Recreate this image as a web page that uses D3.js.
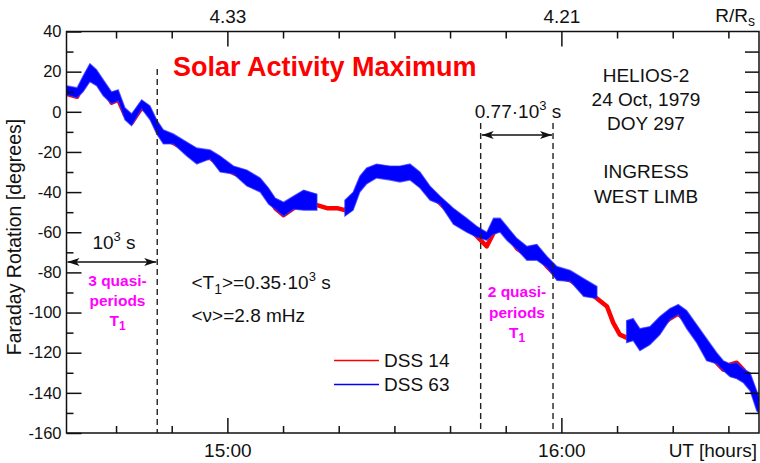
<!DOCTYPE html>
<html>
<head>
<meta charset="utf-8">
<script src="https://cdn.jsdelivr.net/npm/d3@7"></script>
<style>
  html, body { margin: 0; padding: 0; background: #fff; }
  svg { display: block; font-family: "Liberation Sans", Arial, sans-serif; }
</style>
</head>
<body>
<div id="chart"></div>
<script>
// minutes after 14:00 UT
const minutes = [31.0, 33.0, 34.1, 35.3, 36.5, 37.7, 39.2, 40.4, 41.6, 42.8, 44.6, 46.1, 47.3, 48.5, 50.3,
  52.7, 54.5, 56.9, 58.7, 61.1, 63.5, 65.9, 67.4, 68.6, 70.1, 71.9, 73.7, 76.1, 77.9, 79.7, 81.1, 82.6,
  83.8, 85.0, 86.8, 89.2, 91.0, 92.8, 94.6, 96.4, 98.2, 100.6, 103.0, 104.8, 106.6, 107.8, 109.0, 110.2,
  112.0, 113.8, 115.6, 117.4, 119.2, 121.6, 124.0, 126.4, 128.2, 129.3, 130.5, 131.7, 132.9, 134.1,
  135.9, 137.7, 139.5, 141.0, 142.5, 144.3, 146.1, 147.9, 149.1, 150.3, 151.5, 152.7, 153.9, 155.1, 155.5];

// DSS 14 Faraday rotation [deg]
const dss14 = [9, 7.5, 14, 19, 17, 12, 4.5, 6, -1.5, -5.5, 2, -0.5, -8, -13, -15.5,
  -19, -22.5, -23, -26.5, -30.5, -33, -37, -42, -48, -51.5, -48, -45.5, -46.5, -48, -48, -49, -45.5,
  -35.5, -32.5, -29, -30.5, -30.5, -30, -34, -40.5, -45.5, -52, -56.5, -62, -67, -60.5, -57, -60.5,
  -68, -71.5, -70.5, -77, -82, -84, -88, -93, -97, -105, -111, -112.5, -110, -114.5,
  -112, -107, -103, -100.5, -104.5, -110, -118.5, -125, -128.5, -126, -125, -128.5, -135, -143.5, -146];

// DSS 63 noisy band: upper and lower envelope [deg], null = no data
const dss63Hi = [13, 12, 18, 24, 21, 16, 10, 11, 2, -1, 6, 3, -4, -9, -11,
  -15, -18, -19, -22, -27, -29, -33, -38, -43, -45, -42, -39, -41, null, null, -44, -40,
  -32, -28, -26, -27, -27, -26, -30, -37, -42, -48, -53, -57, -60, -53, -53, -57,
  -63, -67, -66, -72, -77, -79, -83, -87, null, null, null, -104, -103, -108,
  -107, -102, -98, -96, -99, -106, -113, -120, -124, -125.5, -125, -128, -130, -139, -142];
const dss63Lo = [8.5, 7, 10, 15, 13, 8, 4, 5.5, -4, -7, 1.5, -4, -11, -16, -16,
  -22, -26, -23.5, -30, -31, -37, -40, -46, -48.5, -52, -48.5, -49, -49, null, null, -52, -49,
  -40, -36, -33, -34, -35, -34, -38, -44, -46, -56, -60, -62.5, -64, -61, -60, -64,
  -68.5, -74, -74, -77.5, -84, -84.5, -92, -93, null, null, null, -115, -114, -119,
  -116, -111, -103.5, -101, -108, -115, -124, -125.5, -129, -132, -133, -135, -139, -149, -150];

// axes
const timeTicks = [40, 50, 60, 70, 80, 90, 100, 110, 120, 130, 140, 150];
const timeLabelValues = [60, 120];
const timeLabelText = ['15:00', '16:00'];
const radiusTicks = [4.37, 4.35, 4.33, 4.31, 4.29, 4.27, 4.25, 4.23, 4.21, 4.19, 4.17, 4.15];
const radiusLabels = [4.33, 4.21];
const rotTicks = [40, 30, 20, 10, 0, -10, -20, -30, -40, -50, -60, -70, -80, -90, -100, -110, -120, -130, -140, -150, -160];
const rotLabels = [40, 20, 0, -20, -40, -60, -80, -100, -120, -140, -160];

// marked intervals (minutes after 14:00)
const leftMark = [31.1, 47.4];
const rightMark = [105.5, 118.5];

const W = 760, H = 463;
const mL = 66.5, mR = 759, mT = 31.5, mB = 433;

const svg = d3.select('#chart').append('svg')
  .attr('width', W).attr('height', H)
  .attr('viewBox', `0,0,${W},${H}`);

const x = d3.scaleLinear().domain([31.1, 155.5]).range([mL, mR]);
const y = d3.scaleLinear().domain([-160, 40]).range([mB, mT]);
const r = d3.scaleLinear().domain([4.33, 4.21]).range([x(60), x(120)]);

svg.append('clipPath').attr('id', 'clip')
  .append('rect').attr('x', mL).attr('y', mT).attr('width', mR - mL).attr('height', mB - mT);

const plot = svg.append('g').attr('clip-path', 'url(#clip)');

const pts = minutes.map((t, i) => ({ t, red: dss14[i], hi: dss63Hi[i], lo: dss63Lo[i] }));

// DSS 14 red
plot.append('path')
  .datum(pts)
  .attr('fill', 'none')
  .attr('stroke', '#ff0000')
  .attr('stroke-width', 4.5)
  .attr('stroke-linejoin', 'round')
  .attr('d', d3.line().x(d => x(d.t)).y(d => y(d.red)));

// DSS 63 blue
plot.append('path')
  .datum(pts)
  .attr('fill', '#0000ff')
  .attr('stroke', '#3535ff')
  .attr('stroke-opacity', 0.7)
  .attr('stroke-width', 1.2)
  .attr('d', d3.area().defined(d => d.hi != null)
    .x(d => x(d.t)).y0(d => y(d.lo)).y1(d => y(d.hi)));

// dashed markers
const dash = svg.append('g').attr('stroke', '#222').attr('stroke-width', 1.4).attr('stroke-dasharray', '6,4');
dash.append('line').attr('x1', x(leftMark[1])).attr('x2', x(leftMark[1])).attr('y1', 69).attr('y2', mB);
dash.append('line').attr('x1', x(rightMark[0])).attr('x2', x(rightMark[0])).attr('y1', 123).attr('y2', mB);
dash.append('line').attr('x1', x(rightMark[1])).attr('x2', x(rightMark[1])).attr('y1', 123).attr('y2', mB);

// axes
function styleAxis(g, size) {
  g.attr('font-family', null).attr('font-size', size);
  g.select('.domain').remove();
  g.selectAll('line').attr('stroke', '#111').attr('stroke-width', 1.5);
  g.selectAll('text').attr('fill', '#111');
}

svg.append('g').attr('transform', `translate(0,${mB})`)
  .call(d3.axisBottom(x).tickValues(timeTicks.filter(t => !timeLabelValues.includes(t)))
    .tickSizeInner(-7).tickSizeOuter(0).tickFormat(''))
  .call(g => styleAxis(g, 19));
svg.append('g').attr('transform', `translate(0,${mB})`)
  .call(d3.axisBottom(x).tickValues(timeLabelValues)
    .tickSizeInner(-15).tickSizeOuter(0).tickPadding(11).tickFormat((d, i) => timeLabelText[i]))
  .call(g => styleAxis(g, 19));

svg.append('g').attr('transform', `translate(0,${mT})`)
  .call(d3.axisTop(r).tickValues(radiusTicks.filter(v => !radiusLabels.includes(v)))
    .tickSizeInner(-7).tickSizeOuter(0).tickFormat(''))
  .call(g => styleAxis(g, 19));
svg.append('g').attr('transform', `translate(0,${mT})`)
  .call(d3.axisTop(r).tickValues(radiusLabels)
    .tickSizeInner(-15).tickSizeOuter(0).tickPadding(9).tickFormat(d3.format('.2f')))
  .call(g => styleAxis(g, 19));

svg.append('g').attr('transform', `translate(${mL},0)`)
  .call(d3.axisLeft(y).tickValues(rotTicks.filter(v => !rotLabels.includes(v)))
    .tickSizeInner(-7).tickSizeOuter(0).tickFormat(''))
  .call(g => styleAxis(g, 16.5));
svg.append('g').attr('transform', `translate(${mL},0)`)
  .call(d3.axisLeft(y).tickValues(rotLabels)
    .tickSizeInner(-15).tickSizeOuter(0).tickPadding(5).tickFormat(d => String(d)))
  .call(g => styleAxis(g, 16.5));

svg.append('g').attr('transform', `translate(${mR},0)`)
  .call(d3.axisRight(y).tickValues(rotTicks.slice(1, -1))
    .tickSizeInner(-14).tickSizeOuter(0).tickFormat(''))
  .call(g => styleAxis(g, 16));

// frame
svg.append('rect')
  .attr('x', mL).attr('y', mT).attr('width', mR - mL).attr('height', mB - mT)
  .attr('fill', 'none').attr('stroke', '#111').attr('stroke-width', 1.5);

// axis titles
const txt = svg.append('g').attr('fill', '#111').attr('font-size', 19);
txt.append('text').attr('transform', 'translate(21,237) rotate(-90)')
  .attr('text-anchor', 'middle').attr('font-size', 19.5).text('Faraday Rotation [degrees]');
txt.append('text').attr('x', 757).attr('y', 457).attr('text-anchor', 'end').text('UT [hours]');
const rr = txt.append('text').attr('x', 755).attr('y', 22).attr('text-anchor', 'end');
rr.append('tspan').text('R/R');
rr.append('tspan').attr('font-size', 14).attr('dy', 4).text('s');

// title
svg.append('text').attr('x', 173).attr('y', 75.5)
  .attr('fill', '#ff0000').attr('font-weight', 'bold').attr('font-size', 27)
  .text('Solar Activity Maximum');

// mission info
['HELIOS-2', '24 Oct, 1979', 'DOY 297'].forEach((s, i) => {
  txt.append('text').attr('x', 646).attr('y', 81.5 + i * 24).attr('text-anchor', 'middle').text(s);
});
['INGRESS', 'WEST LIMB'].forEach((s, i) => {
  txt.append('text').attr('x', 646).attr('y', 177.5 + i * 25).attr('text-anchor', 'middle').text(s);
});

// arrows
const defs = svg.append('defs');
defs.append('marker').attr('id', 'ah').attr('viewBox', '0 0 12 8')
  .attr('refX', 12).attr('refY', 4).attr('markerWidth', 12).attr('markerHeight', 8)
  .attr('markerUnits', 'userSpaceOnUse').attr('orient', 'auto-start-reverse')
  .append('path').attr('d', 'M0,0L12,4L0,8L3,4Z').attr('fill', '#111');

svg.append('line').attr('x1', x(leftMark[0]) + 1).attr('x2', x(leftMark[1]) - 1)
  .attr('y1', 262).attr('y2', 262).attr('stroke', '#111').attr('stroke-width', 1.5)
  .attr('marker-start', 'url(#ah)').attr('marker-end', 'url(#ah)');
svg.append('line').attr('x1', x(rightMark[0]) + 1).attr('x2', x(rightMark[1]) - 1)
  .attr('y1', 135).attr('y2', 135).attr('stroke', '#111').attr('stroke-width', 1.5)
  .attr('marker-start', 'url(#ah)').attr('marker-end', 'url(#ah)');

function powerText(px, py, pre, post) {
  const t = txt.append('text').attr('x', px).attr('y', py).attr('text-anchor', 'middle');
  t.append('tspan').text(pre);
  t.append('tspan').attr('font-size', 13).attr('dy', -8).text('3');
  t.append('tspan').attr('dy', 8).text(post);
  return t;
}
powerText(114, 248.5, '10', ' s');
powerText(518, 117.5, '0.77·10', ' s');

// statistics
const t1 = txt.append('text').attr('x', 191.5).attr('y', 288.5);
t1.append('tspan').text('<T');
t1.append('tspan').attr('font-size', 14).attr('dy', 5).text('1');
t1.append('tspan').attr('dy', -5).text('>=0.35·10');
t1.append('tspan').attr('font-size', 13).attr('dy', -8).text('3');
t1.append('tspan').attr('dy', 8).text(' s');
txt.append('text').attr('x', 191.5).attr('y', 322).text('<ν>=2.8 mHz');

// quasi-period labels
function quasi(cx, y0, n) {
  const g = svg.append('g').attr('fill', '#ff00ff').attr('font-weight', 'bold')
    .attr('font-size', 15.5).attr('text-anchor', 'middle');
  g.append('text').attr('x', cx).attr('y', y0).text(n + ' quasi-');
  g.append('text').attr('x', cx).attr('y', y0 + 20.5).text('periods');
  const t = g.append('text').attr('x', cx).attr('y', y0 + 40.5);
  t.append('tspan').text('T');
  t.append('tspan').attr('font-size', 12).attr('dy', 4).text('1');
}
quasi(117.5, 285.5, 3);
quasi(517, 297, 2);

// legend
const legendNames = ['DSS 14', 'DSS 63'];
const legendColors = ['#ff0000', '#0000ff'];
legendNames.forEach((n, i) => {
  const ly = 360.5 + i * 24;
  svg.append('line').attr('x1', 334).attr('x2', 379).attr('y1', ly).attr('y2', ly)
    .attr('stroke', legendColors[i]).attr('stroke-width', 1.5);
  txt.append('text').attr('x', 384).attr('y', ly + 6.5).text(n);
});
</script>
</body>
</html>
